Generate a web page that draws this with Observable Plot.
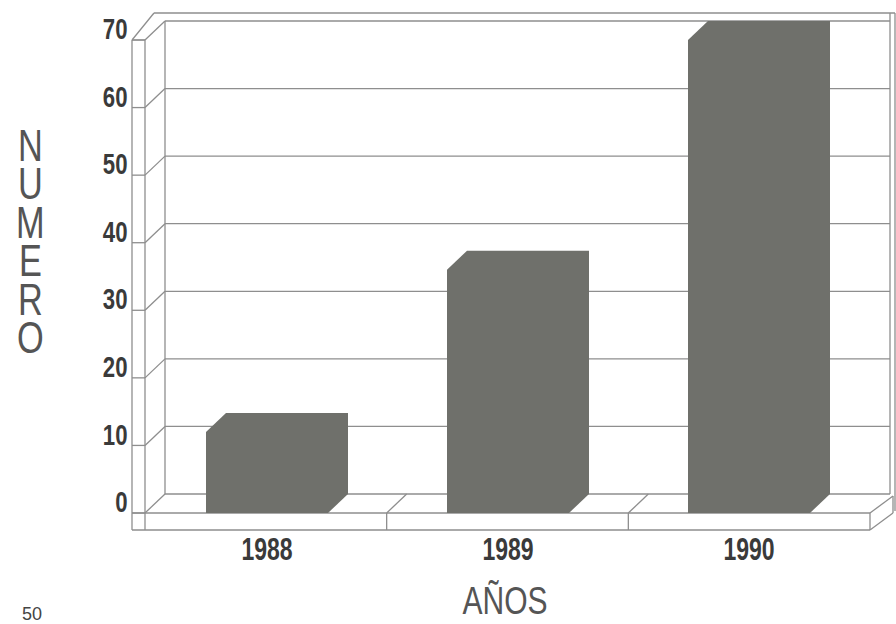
<!DOCTYPE html>
<html>
<head>
<meta charset="utf-8">
<script src="https://cdn.jsdelivr.net/npm/d3@7"></script>
<script src="https://cdn.jsdelivr.net/npm/@observablehq/plot@0.6"></script>
<style>
  html, body { margin: 0; padding: 0; background: #fff; }
  #wrap { position: relative; width: 896px; height: 624px; overflow: hidden; background: #fff;
          font-family: "Liberation Sans", Arial, sans-serif; }
  #chart { position: absolute; left: 0; top: 0; }
  .ylab { position: absolute; left: 8px; top: 121px; width: 44px; height: 240px;
          writing-mode: vertical-rl; text-orientation: upright; letter-spacing: -10.6px;
          font-size: 44px; line-height: 44px; color: #555; transform: scaleX(0.78); transform-origin: 22px 0; }
  .xlab { position: absolute; left: 405px; width: 200px; top: 587px; text-align: center;
          font-size: 38px; line-height: 28px; color: #555; transform: scaleX(0.79); }
  .page { position: absolute; left: 22px; top: 605px; font-size: 18px; line-height: 18px; color: #444; }
  #chart svg text { font-family: "Liberation Sans", Arial, sans-serif; }
</style>
</head>
<body>
<div id="wrap">
  <div id="chart"></div>
  <div class="ylab">NUMERO</div>
  <div class="xlab">AÑOS</div>
  <div class="page">50</div>
</div>
<script>
// ---- data ----
const years = ["1988", "1989", "1990"];
const counts = [12, 36, 70];
const yTicks = [0, 10, 20, 30, 40, 50, 60, 70];
const data = years.map((year, i) => ({year, count: counts[i]}));

// ---- style constants ----
const DX = 20, DY = 19;          // depth offset (pixels)
const WALL = 13, FLOOR = 17;     // slab thickness
const LINE = "#8e8e8e";
const BAR = "#6f706b";
const SVGNS = "http://www.w3.org/2000/svg";

function path(g, d, opts = {}) {
  const p = document.createElementNS(SVGNS, "path");
  p.setAttribute("d", d);
  p.setAttribute("fill", opts.fill || "none");
  p.setAttribute("stroke", opts.stroke || LINE);
  p.setAttribute("stroke-width", opts.width || 1.3);
  g.appendChild(p);
  return p;
}

// frame (walls, floor, gridlines) drawn from the y scale's tick positions
const frame = Plot.ruleY(yTicks, {
  y: d => d,
  render(index, scales, values, dimensions) {
    const g = document.createElementNS(SVGNS, "g");
    const X0 = dimensions.marginLeft, X1 = dimensions.width - dimensions.marginRight;
    const ys = Array.from(index, i => values.y[i]);
    const Y0 = Math.max(...ys), YT = Math.min(...ys);
    const XL = X0 - WALL;
    for (const y of ys) {
      path(g, `M${X0 + DX},${y - DY}H${X1 + DX}`);
      path(g, `M${X0},${y}L${X0 + DX},${y - DY}`);
      path(g, `M${XL},${y}H${X0}`);
    }
    // back wall edges and top
    path(g, `M${X0 + DX},${YT - DY}V${Y0 - DY}`);
    path(g, `M${XL + DX + 2},${YT - DY - 8}H${X1 + DX + 5}`);
    path(g, `M${X1 + DX},${YT - DY - 8}V${Y0 - DY}`);
    path(g, `M${X1 + DX + 5},${YT - DY - 8}V${Y0 - DY + 17}`);
    // left slab
    path(g, `M${XL},${YT}V${Y0 + FLOOR}`);
    path(g, `M${X0},${YT}V${Y0 + FLOOR}`);
    path(g, `M${XL},${YT}H${X0}`);
    path(g, `M${XL},${YT}L${XL + DX + 2},${YT - DY - 8}`);
    // floor
    path(g, `M${XL},${Y0}H${X1}`);
    path(g, `M${XL},${Y0 + FLOOR}H${X1}`);
    path(g, `M${X1},${Y0}V${Y0 + FLOOR}`);
    path(g, `M${X1},${Y0}L${X1 + DX + 3},${Y0 - DY + 2}`);
    path(g, `M${X1},${Y0 + FLOOR}L${X1 + DX + 3},${Y0 + FLOOR - DY + 2}`);
    path(g, `M${X1 + DX + 3},${Y0 - DY + 2}V${Y0 + FLOOR - DY + 2}`);
    const step = (X1 - X0) / years.length;
    for (let k = 1; k < years.length; ++k) {
      const x = X0 + k * step;
      path(g, `M${x},${Y0}V${Y0 + FLOOR}`);
      path(g, `M${x},${Y0}L${x + DX},${Y0 - DY}`);
    }
    return g;
  }
});

// bars with a depth sweep, built on the library's own bar geometry
const bars = Plot.barY(data, {
  x: "year",
  y: "count",
  fill: BAR,
  insetLeft: 60,
  insetRight: 59,
  render(index, scales, values, dimensions, context, next) {
    const g = next(index, scales, values, dimensions, context);
    g.querySelectorAll("rect").forEach(r => {
      const x = +r.getAttribute("x"), y = +r.getAttribute("y");
      const w = +r.getAttribute("width"), h = +r.getAttribute("height");
      const p = document.createElementNS(SVGNS, "path");
      p.setAttribute("d", `M${x},${y + h}V${y}l${DX},${-DY}h${w}v${h}l${-DX},${DY}Z`);
      p.setAttribute("fill", BAR);
      r.replaceWith(p);
    });
    return g;
  }
});

const chart = Plot.plot({
  width: 896,
  height: 624,
  marginLeft: 145,
  marginRight: 26,
  marginTop: 40,
  marginBottom: 111,
  x: {type: "band", domain: years, padding: 0},
  y: {domain: [0, 70]},
  style: {background: "transparent", color: "#3a3a3a"},
  marks: [
    frame,
    bars,
    Plot.axisY(yTicks, {tickSize: 0, tickPadding: 18, dy: -11, fontSize: 30, fontWeight: "bold", label: null, tickFormat: d => String(d)}),
    Plot.axisX({tickSize: 0, tickPadding: 24, fontSize: 32, fontWeight: "bold", label: null})
  ]
});

// condensed look for tick labels (narrow face unavailable): compress horizontally
function condense(sel, s) {
  chart.querySelectorAll(sel).forEach(t => {
    const tr = t.getAttribute("transform");
    if (tr) t.setAttribute("transform", tr + ` scale(${s},1)`);
    else {
      const x = +t.getAttribute("x") || 0, y = +t.getAttribute("y") || 0;
      t.removeAttribute("x"); t.removeAttribute("y");
      t.setAttribute("transform", `translate(${x},${y}) scale(${s},1)`);
    }
  });
}
condense('g[aria-label="y-axis tick label"] text', 0.74);
condense('g[aria-label="x-axis tick label"] text', 0.72);

document.getElementById("chart").appendChild(chart);
</script>
</body>
</html>
